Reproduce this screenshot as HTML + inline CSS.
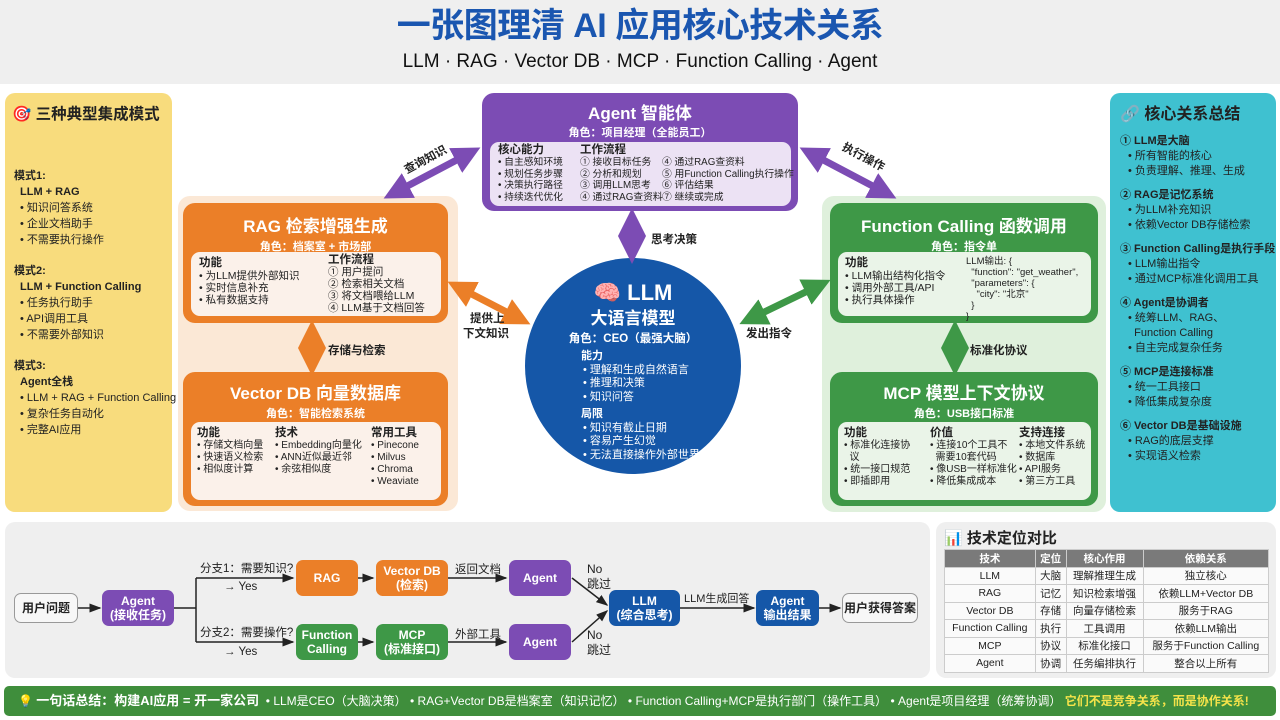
<!DOCTYPE html>
<html><head><meta charset="utf-8"><style>
*{margin:0;padding:0;box-sizing:border-box}
body{width:1280px;height:720px;overflow:hidden;background:#fff;font-family:"Liberation Sans","Noto Sans CJK SC",sans-serif;color:#222;position:relative}
.a{position:absolute}
.b{font-weight:bold}
.box{position:absolute;border-radius:12px;color:#fff;text-align:center}
.in{position:absolute;background:#fbf1ea;border-radius:9px;color:#222;text-align:left;font-size:10.5px;line-height:12px;white-space:nowrap}
ul{list-style:none}
li:before{content:"• "}
.fl{position:absolute;border-radius:7px;color:#fff;font-weight:bold;font-size:12px;text-align:center;display:flex;align-items:center;justify-content:center;line-height:14px}
table{border-collapse:collapse;font-size:10.5px}
td,th{border:1px solid #ccc;text-align:center;height:17.5px;padding:0 3px}
th{background:#7a7a7a;color:#fff;font-weight:bold}
</style></head><body>
<div class="a" style="left:0;top:0;width:1280px;height:84px;background:#efefef"></div>
<div class="a b" style="left:0;top:4px;width:1280px;text-align:center;font-size:34px;line-height:44px;color:#1a56b0;letter-spacing:-0.5px">一张图理清 AI 应用核心技术关系</div>
<div class="a" style="left:0;top:50px;width:1280px;text-align:center;font-size:19px;line-height:24px;color:#111">LLM · RAG · Vector DB · MCP · Function Calling · Agent</div>

<!-- left panel -->
<div class="a" style="left:5px;top:93px;width:167px;height:419px;background:#f8dc7d;border-radius:10px"></div>
<div class="a b" style="left:12px;top:102px;font-size:15.5px">🎯 三种典型集成模式</div>
<div class="a" style="left:14px;top:168px;font-size:11px;line-height:16px">
<div class="b">模式1:</div><div class="b" style="padding-left:6px">LLM + RAG</div>
<ul style="padding-left:6px"><li>知识问答系统</li><li>企业文档助手</li><li>不需要执行操作</li></ul>
<div class="b" style="margin-top:15px">模式2:</div><div class="b" style="padding-left:6px">LLM + Function Calling</div>
<ul style="padding-left:6px"><li>任务执行助手</li><li>API调用工具</li><li>不需要外部知识</li></ul>
<div class="b" style="margin-top:15px">模式3:</div><div class="b" style="padding-left:6px">Agent全栈</div>
<ul style="padding-left:6px"><li>LLM + RAG + Function Calling</li><li>复杂任务自动化</li><li>完整AI应用</li></ul>
</div>

<!-- right panel -->
<div class="a" style="left:1110px;top:93px;width:166px;height:419px;background:#3fc1d0;border-radius:10px"></div>
<div class="a b" style="left:1120px;top:100px;font-size:16px">🔗 核心关系总结</div>
<div class="a" style="left:1120px;top:134px;font-size:11px;line-height:15px">
<div class="b">① LLM是大脑</div><ul style="padding-left:8px"><li>所有智能的核心</li><li>负责理解、推理、生成</li></ul>
<div class="b" style="margin-top:9px">② RAG是记忆系统</div><ul style="padding-left:8px"><li>为LLM补充知识</li><li>依赖Vector DB存储检索</li></ul>
<div class="b" style="margin-top:9px">③ Function Calling是执行手段</div><ul style="padding-left:8px"><li>LLM输出指令</li><li>通过MCP标准化调用工具</li></ul>
<div class="b" style="margin-top:9px">④ Agent是协调者</div><ul style="padding-left:8px"><li>统筹LLM、RAG、<br>&nbsp;&nbsp;Function Calling</li><li>自主完成复杂任务</li></ul>
<div class="b" style="margin-top:9px">⑤ MCP是连接标准</div><ul style="padding-left:8px"><li>统一工具接口</li><li>降低集成复杂度</li></ul>
<div class="b" style="margin-top:9px">⑥ Vector DB是基础设施</div><ul style="padding-left:8px"><li>RAG的底层支撑</li><li>实现语义检索</li></ul>
</div>

<!-- outer bg panels -->
<div class="a" style="left:178px;top:196px;width:280px;height:315px;background:#fbe8d6;border-radius:12px"></div>
<div class="a" style="left:822px;top:196px;width:284px;height:316px;background:#dff0dc;border-radius:12px"></div>

<!-- RAG -->
<div class="box" style="left:183px;top:203px;width:265px;height:120px;background:#eb7f28">
<div class="b" style="font-size:17px;margin-top:9px">RAG 检索增强生成</div>
<div class="b" style="font-size:11px;margin-top:1px">角色：档案室 + 市场部</div>
</div>
<div class="in" style="left:191px;top:252px;width:250px;height:64px">
<div class="a" style="left:8px;top:5px"><div class="b" style="font-size:11.5px;line-height:13px">功能</div><ul><li>为LLM提供外部知识</li><li>实时信息补充</li><li>私有数据支持</li></ul></div>
<div class="a" style="left:137px;top:2px"><div class="b" style="font-size:11.5px">工作流程</div><div>① 用户提问</div><div>② 检索相关文档</div><div>③ 将文档喂给LLM</div><div>④ LLM基于文档回答</div></div>
</div>
<!-- Vector DB -->
<div class="box" style="left:183px;top:372px;width:265px;height:134px;background:#eb7f28">
<div class="b" style="font-size:17px;margin-top:7px">Vector DB 向量数据库</div>
<div class="b" style="font-size:11px;margin-top:1px">角色：智能检索系统</div>
</div>
<div class="in" style="left:191px;top:422px;width:250px;height:78px;font-size:10px">
<div class="a" style="left:6px;top:5px"><div class="b" style="font-size:11.5px;line-height:13px">功能</div><ul><li>存储文档向量</li><li>快速语义检索</li><li>相似度计算</li></ul></div>
<div class="a" style="left:84px;top:5px"><div class="b" style="font-size:11.5px;line-height:13px">技术</div><ul><li>Embedding向量化</li><li>ANN近似最近邻</li><li>余弦相似度</li></ul></div>
<div class="a" style="left:180px;top:5px"><div class="b" style="font-size:11.5px;line-height:13px">常用工具</div><ul><li>Pinecone</li><li>Milvus</li><li>Chroma</li><li>Weaviate</li></ul></div>
</div>

<!-- Agent -->
<div class="box" style="left:482px;top:93px;width:316px;height:118px;background:#7c4cb4">
<div class="b" style="font-size:17px;margin-top:6px">Agent 智能体</div>
<div class="b" style="font-size:11px;margin-top:0px">角色：项目经理（全能员工）</div>
</div>
<div class="in" style="left:490px;top:142px;width:301px;height:64px;background:#ece2f4;font-size:9.8px;line-height:11.5px">
<div class="a" style="left:8px;top:2px"><div class="b" style="font-size:11.5px;line-height:13px">核心能力</div><ul><li>自主感知环境</li><li>规划任务步骤</li><li>决策执行路径</li><li>持续迭代优化</li></ul></div>
<div class="a" style="left:90px;top:2px"><div class="b" style="font-size:11.5px;line-height:13px">工作流程</div><div>① 接收目标任务</div><div>② 分析和规划</div><div>③ 调用LLM思考</div><div>④ 通过RAG查资料</div></div>
<div class="a" style="left:172px;top:15px"><div>④ 通过RAG查资料</div><div>⑤ 用Function Calling执行操作</div><div>⑥ 评估结果</div><div>⑦ 继续或完成</div></div>
</div>

<!-- LLM circle -->
<div class="a" style="left:525px;top:258px;width:216px;height:216px;border-radius:50%;background:#1557a8;color:#fff">
<div class="a b" style="left:0;width:216px;top:22px;text-align:center;font-size:22px;line-height:26px">🧠 LLM</div>
<div class="a b" style="left:0;width:216px;top:50px;text-align:center;font-size:17px;line-height:22px">大语言模型</div>
<div class="a b" style="left:0;width:216px;top:74px;text-align:center;font-size:11.5px;line-height:14px">角色：CEO（最强大脑）</div>
<div class="a" style="left:56px;top:92px;font-size:11px;line-height:13.5px;white-space:nowrap">
<div class="b">能力</div><ul style="padding-left:2px"><li>理解和生成自然语言</li><li>推理和决策</li><li>知识问答</li></ul>
<div class="b" style="margin-top:4px">局限</div><ul style="padding-left:2px"><li>知识有截止日期</li><li>容易产生幻觉</li><li>无法直接操作外部世界</li></ul>
</div></div>

<!-- FC -->
<div class="box" style="left:830px;top:203px;width:268px;height:120px;background:#3e9847">
<div class="b" style="font-size:17px;margin-top:9px">Function Calling 函数调用</div>
<div class="b" style="font-size:11px;margin-top:1px">角色：指令单</div>
</div>
<div class="in" style="left:838px;top:252px;width:253px;height:64px;background:#eaf4e8">
<div class="a" style="left:7px;top:5px"><div class="b" style="font-size:11.5px;line-height:13px">功能</div><ul><li>LLM输出结构化指令</li><li>调用外部工具/API</li><li>执行具体操作</li></ul></div>
<div class="a" style="left:128px;top:4px;font-size:9.5px;line-height:11px;white-space:pre">LLM输出: {
  "function": "get_weather",
  "parameters": {
    "city": "北京"
  }
}</div>
</div>
<!-- MCP -->
<div class="box" style="left:830px;top:372px;width:268px;height:134px;background:#3e9847">
<div class="b" style="font-size:17px;margin-top:7px">MCP 模型上下文协议</div>
<div class="b" style="font-size:11px;margin-top:1px">角色：USB接口标准</div>
</div>
<div class="in" style="left:838px;top:422px;width:253px;height:78px;background:#eaf4e8;font-size:10px">
<div class="a" style="left:6px;top:5px"><div class="b" style="font-size:11.5px;line-height:13px">功能</div><ul><li>标准化连接协<br>&nbsp;&nbsp;议</li><li>统一接口规范</li><li>即插即用</li></ul></div>
<div class="a" style="left:92px;top:5px"><div class="b" style="font-size:11.5px;line-height:13px">价值</div><ul><li>连接10个工具不<br>&nbsp;&nbsp;需要10套代码</li><li>像USB一样标准化</li><li>降低集成成本</li></ul></div>
<div class="a" style="left:181px;top:5px"><div class="b" style="font-size:11.5px;line-height:13px">支持连接</div><ul><li>本地文件系统</li><li>数据库</li><li>API服务</li><li>第三方工具</li></ul></div>
</div>

<!-- connector arrows -->
<svg class="a" style="left:0;top:0" width="1280" height="720">
<defs>
<marker id="mp" markerWidth="4" markerHeight="4" refX="2" refY="2" orient="auto-start-reverse"><path d="M0,0L4,2L0,4Z" fill="#7c4cb4"/></marker>
<marker id="mo" markerWidth="4" markerHeight="4" refX="2" refY="2" orient="auto-start-reverse"><path d="M0,0L4,2L0,4Z" fill="#eb7f28"/></marker>
<marker id="mg" markerWidth="4" markerHeight="4" refX="2" refY="2" orient="auto-start-reverse"><path d="M0,0L4,2L0,4Z" fill="#3e9847"/></marker>
<marker id="k" markerWidth="8" markerHeight="8" refX="7" refY="4" orient="auto"><path d="M0,1L8,4L0,7Z" fill="#222"/></marker>
</defs>
<g stroke-width="7" fill="none">
<line x1="396" y1="192" x2="468" y2="154" stroke="#7c4cb4" marker-start="url(#mp)" marker-end="url(#mp)"/>
<line x1="812" y1="154" x2="884" y2="192" stroke="#7c4cb4" marker-start="url(#mp)" marker-end="url(#mp)"/>
<line x1="632" y1="222" x2="632" y2="250" stroke="#7c4cb4" marker-start="url(#mp)" marker-end="url(#mp)"/>
<line x1="460" y1="288" x2="518" y2="318" stroke="#eb7f28" marker-start="url(#mo)" marker-end="url(#mo)"/>
<line x1="312" y1="334" x2="312" y2="362" stroke="#eb7f28" marker-start="url(#mo)" marker-end="url(#mo)"/>
<line x1="752" y1="318" x2="818" y2="286" stroke="#3e9847" marker-start="url(#mg)" marker-end="url(#mg)"/>
<line x1="955" y1="334" x2="955" y2="362" stroke="#3e9847" marker-start="url(#mg)" marker-end="url(#mg)"/>
</g>
<g font-size="11.5" font-weight="bold" fill="#222" font-family="Liberation Sans,Noto Sans CJK SC,sans-serif">
<text x="402" y="166" transform="rotate(-28 420 160)">查询知识</text>
<text x="838" y="157" transform="rotate(28 855 160)">执行操作</text>
<text x="651" y="243">思考决策</text>
<text x="470" y="322">提供上</text><text x="463" y="337">下文知识</text>
<text x="746" y="337">发出指令</text>
<text x="328" y="354">存储与检索</text>
<text x="970" y="354">标准化协议</text>
</g>
</svg>

<!-- bottom flow panel -->
<div class="a" style="left:5px;top:522px;width:925px;height:156px;background:#efefef;border-radius:10px"></div>
<div class="a" style="left:936px;top:522px;width:340px;height:156px;background:#efefef;border-radius:10px"></div>
<svg class="a" style="left:0;top:0" width="940" height="720" stroke="#222" stroke-width="1.5" fill="none">
<line x1="78" y1="608" x2="100" y2="608" marker-end="url(#k)"/>
<polyline points="174,608 196,608"/>
<polyline points="196,578 196,642"/>
<line x1="196" y1="578" x2="293" y2="578" marker-end="url(#k)"/>
<line x1="196" y1="642" x2="293" y2="642" marker-end="url(#k)"/>
<line x1="358" y1="578" x2="373" y2="578" marker-end="url(#k)"/>
<line x1="358" y1="642" x2="373" y2="642" marker-end="url(#k)"/>
<line x1="448" y1="578" x2="506" y2="578" marker-end="url(#k)"/>
<line x1="448" y1="642" x2="506" y2="642" marker-end="url(#k)"/>
<line x1="572" y1="578" x2="607" y2="605" marker-end="url(#k)"/>
<line x1="572" y1="642" x2="607" y2="611" marker-end="url(#k)"/>
<line x1="680" y1="608" x2="754" y2="608" marker-end="url(#k)"/>
<line x1="819" y1="608" x2="840" y2="608" marker-end="url(#k)"/>
</svg>
<div class="fl" style="left:14px;top:593px;width:64px;height:30px;background:#f7f7f7;border:1px solid #999;color:#222">用户问题</div>
<div class="fl" style="left:102px;top:590px;width:72px;height:36px;background:#7c4cb4">Agent<br>(接收任务)</div>
<div class="a" style="left:200px;top:560px;font-size:11.5px">分支1：需要知识?</div>
<div class="a" style="left:224px;top:581px;font-size:11.5px">→ Yes</div>
<div class="a" style="left:200px;top:624px;font-size:11.5px">分支2：需要操作?</div>
<div class="a" style="left:224px;top:646px;font-size:11.5px">→ Yes</div>
<div class="fl" style="left:296px;top:560px;width:62px;height:36px;background:#eb7f28">RAG</div>
<div class="fl" style="left:376px;top:560px;width:72px;height:36px;background:#eb7f28">Vector DB<br>(检索)</div>
<div class="fl" style="left:296px;top:624px;width:62px;height:36px;background:#3e9847">Function<br>Calling</div>
<div class="fl" style="left:376px;top:624px;width:72px;height:36px;background:#3e9847">MCP<br>(标准接口)</div>
<div class="a" style="left:455px;top:561px;font-size:11.5px">返回文档</div>
<div class="a" style="left:455px;top:626px;font-size:11.5px">外部工具</div>
<div class="fl" style="left:509px;top:560px;width:62px;height:36px;background:#7c4cb4">Agent</div>
<div class="fl" style="left:509px;top:624px;width:62px;height:36px;background:#7c4cb4">Agent</div>
<div class="a" style="left:587px;top:562px;font-size:12px;line-height:15px">No<br>跳过</div>
<div class="a" style="left:587px;top:628px;font-size:12px;line-height:15px">No<br>跳过</div>
<div class="fl" style="left:609px;top:590px;width:71px;height:36px;background:#1557a8">LLM<br>(综合思考)</div>
<div class="a" style="left:684px;top:590px;font-size:11px">LLM生成回答</div>
<div class="fl" style="left:756px;top:590px;width:63px;height:36px;background:#1557a8">Agent<br>输出结果</div>
<div class="fl" style="left:842px;top:593px;width:76px;height:30px;background:#f7f7f7;border:1px solid #999;color:#222">用户获得答案</div>

<!-- table -->
<div class="a b" style="left:944px;top:527px;font-size:15px"><span style="color:#2a7ad0">📊</span> 技术定位对比</div>
<table class="a" style="left:944px;top:549px;width:325px;background:#fafafa">
<tr><th>技术</th><th>定位</th><th>核心作用</th><th>依赖关系</th></tr>
<tr><td>LLM</td><td>大脑</td><td>理解推理生成</td><td>独立核心</td></tr>
<tr><td>RAG</td><td>记忆</td><td>知识检索增强</td><td>依赖LLM+Vector DB</td></tr>
<tr><td>Vector DB</td><td>存储</td><td>向量存储检索</td><td>服务于RAG</td></tr>
<tr><td>Function Calling</td><td>执行</td><td>工具调用</td><td>依赖LLM输出</td></tr>
<tr><td>MCP</td><td>协议</td><td>标准化接口</td><td>服务于Function Calling</td></tr>
<tr><td>Agent</td><td>协调</td><td>任务编排执行</td><td>整合以上所有</td></tr>
</table>

<!-- footer -->
<div class="a" style="left:4px;top:686px;width:1272px;height:30px;background:#3f8e3c;border-radius:5px;color:#fff;font-size:12px;line-height:30px;padding-left:14px;white-space:nowrap">
<span style="color:#ffe066">💡</span> <b style="font-size:13px">一句话总结：构建AI应用 = 开一家公司</b> &nbsp;• LLM是CEO（大脑决策） • RAG+Vector DB是档案室（知识记忆） • Function Calling+MCP是执行部门（操作工具） • Agent是项目经理（统筹协调） <b style="color:#f5e34a">它们不是竞争关系，而是协作关系!</b>
</div>
</body></html>
